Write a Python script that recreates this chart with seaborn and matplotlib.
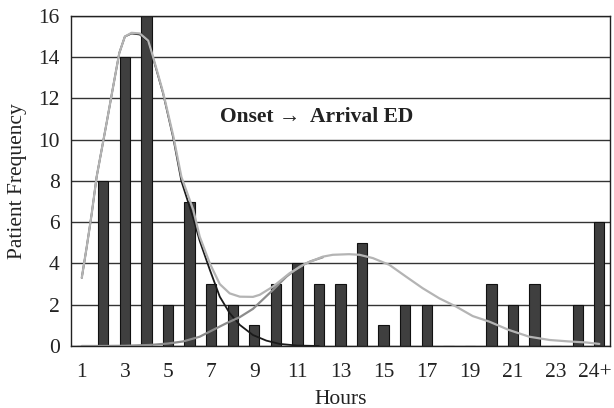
import numpy as np
import pandas as pd
import seaborn as sns
import matplotlib.pyplot as plt
from matplotlib.transforms import ScaledTranslation

# bar data: hours 1..24, last bin is 24+
hours = list(range(1, 26))
counts = [0, 8, 14, 16, 2, 7, 3, 2, 1, 3, 4, 3, 3, 5, 1, 2, 2, 0, 0, 3, 2, 3, 0, 2, 6]
tick_pos = list(range(1, 26, 2))
tick_labels = [str(h) for h in range(1, 24, 2)] + ["24+"]

# fitted curves
total_x = [1.0, 1.23, 1.46, 1.69, 2.15, 2.46, 2.74, 3.0, 3.31, 3.69, 4.08, 4.31, 4.77,
           5.24, 5.62, 6.17, 6.47, 6.94, 7.4, 7.86, 8.33, 8.94, 9.25, 9.87, 10.64, 11.41,
           12.18, 12.64, 13.4, 13.88, 14.5, 15.27, 16.04, 16.81, 17.58, 18.36, 19.13,
           19.9, 20.8, 21.75, 22.7, 23.6, 24.4, 25.0]
total_y = [3.3, 4.8, 6.4, 8.2, 10.8, 12.6, 14.2, 15.0, 15.18, 15.15, 14.8, 14.0, 12.3,
           10.2, 8.2, 6.6, 5.3, 4.0, 3.0, 2.55, 2.39, 2.38, 2.48, 2.88, 3.53, 4.01,
           4.33, 4.42, 4.45, 4.42, 4.26, 3.93, 3.36, 2.8, 2.31, 1.91, 1.45,
           1.18, 0.78, 0.45, 0.29, 0.22, 0.17, 0.1]

early_x = [1.0, 1.23, 1.46, 1.69, 2.15, 2.46, 2.74, 3.0, 3.31, 3.69, 4.08, 4.31, 4.77,
           5.24, 5.62, 6.17, 6.47, 6.94, 7.4, 7.86, 8.33, 8.94, 9.56, 10.18, 11.0, 12.0]
early_y = [3.3, 4.8, 6.4, 8.2, 10.8, 12.6, 14.2, 15.0, 15.15, 15.1, 14.75, 13.95, 12.25,
           10.1, 8.0, 6.2, 5.1, 3.69, 2.39, 1.59, 1.02, 0.53, 0.26, 0.1, 0.02, 0.0]

late_x = [1.0, 2.0, 3.0, 4.16, 5.0, 5.7, 6.47, 7.09, 7.7, 8.33, 8.94, 9.87, 10.49,
          11.1, 11.6, 12.18]
late_y = [0.0, 0.0, 0.01, 0.05, 0.12, 0.22, 0.45, 0.78, 1.1, 1.4, 1.8, 2.72, 3.36,
          3.85, 4.1, 4.3]

sns.set_style("white")
plt.rcParams["font.family"] = ["Liberation Serif", "DejaVu Serif"]

fig = plt.figure(figsize=(6.14, 4.08), dpi=100)
ax = fig.add_axes([0.1156, 0.152, 0.878, 0.809])

ax.yaxis.grid(True, color="#333333", linewidth=1.0)
ax.set_axisbelow(True)

sns.barplot(x=hours, y=counts, native_scale=True, width=0.48, color="#3f3f3f",
            saturation=1, edgecolor="#111111", linewidth=0.8, ax=ax, zorder=2)

sns.lineplot(x=early_x, y=early_y, color="#1a1a1a", linewidth=1.3, ax=ax,
             sort=False, zorder=3)
sns.lineplot(x=late_x, y=late_y, color="#8c8c8c", linewidth=1.6, ax=ax,
             sort=False, zorder=3)
sns.lineplot(x=total_x, y=total_y, color="#b4b4b4", linewidth=1.6, ax=ax,
             sort=False, zorder=4)

ax.set_xlim(0.5, 25.5)
ax.set_ylim(0, 16)
ax.set_yticks(range(0, 17, 2))

# ticks sit between bins, labels under odd bins
ax.set_xticks(np.arange(0.5, 25.6, 1))
ax.set_xticklabels([])
ax.set_xticks(tick_pos, minor=True)
ax.set_xticklabels(tick_labels, minor=True)
ax.tick_params(axis="x", which="major", direction="out", length=6, width=1, color="#222222")
ax.tick_params(axis="x", which="minor", length=0, pad=12, labelsize=15.5, labelcolor="#222222")
ax.tick_params(axis="y", direction="out", length=5, width=1, color="#222222",
               labelsize=15.5, labelcolor="#222222", pad=3)

# nudge "24+" in a little so it stays on the canvas
last = ax.get_xticklabels(minor=True)[-1]
last.set_transform(last.get_transform() + ScaledTranslation(-3 / 72, 0, fig.dpi_scale_trans))

for s in ax.spines.values():
    s.set_color("#222222")
    s.set_linewidth(1.0)

ax.set_xlabel("Hours", fontsize=15.5, labelpad=6, color="#222222")
ax.set_ylabel("Patient Frequency", fontsize=15.5, labelpad=8, color="#222222")

ax.text(11.9, 11.1, "Onset \u2192  Arrival ED", fontsize=15.5, fontweight="bold",
        ha="center", va="center", color="#222222")

fig.savefig("out.png", dpi=100)
